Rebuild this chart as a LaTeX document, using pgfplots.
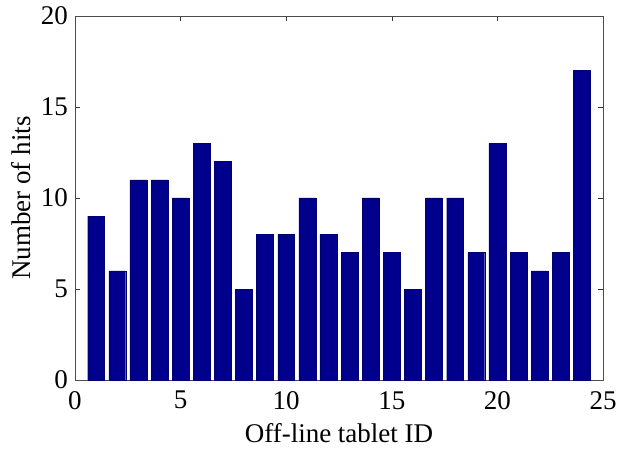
\documentclass[border=0pt]{standalone}
\usepackage{fontspec}
\setmainfont{Liberation Serif}
\usepackage{pgfplots}
\pgfplotsset{compat=1.18}
\definecolor{barblue}{RGB}{0,0,140}
\begin{document}
\fontsize{27bp}{30bp}\selectfont
\begin{tikzpicture}
\useasboundingbox (-75bp,-70bp) rectangle (543bp,380bp);
\begin{axis}[
  at={(0,0)}, anchor=south west,
  scale only axis,
  width=528bp, height=364bp,
  xmin=0, xmax=25, ymin=0, ymax=20,
  xtick={0,5,10,15,20,25},
  ytick={0,5,10,15,20},
  tick align=inside,
  major tick length=5bp,
  axis line style={black!70, line width=0.8bp},
  tick style={black!80, line width=0.6bp},
  /pgf/number format/assume math mode=true,
  ticklabel style={font=\fontsize{27bp}{30bp}\selectfont},
  xticklabel style={yshift=-2bp},
  yticklabel style={xshift=2bp},
  label style={font=\fontsize{27bp}{30bp}\selectfont},
  xlabel={Off-line tablet ID},
  ylabel={Number of hits},
  xlabel style={yshift=4bp},
  ylabel style={yshift=-8bp},
]
\addplot[ybar, bar width=0.8, fill=barblue, draw=barblue!80!black, line width=0.3bp] coordinates {
(1,9) (2,6) (3,11) (4,11) (5,10) (6,13) (7,12) (8,5) (9,8) (10,8) (11,10) (12,8)
(13,7) (14,10) (15,7) (16,5) (17,10) (18,10) (19,7) (20,13) (21,7) (22,6) (23,7) (24,17)
};
\end{axis}
\end{tikzpicture}
\end{document}
